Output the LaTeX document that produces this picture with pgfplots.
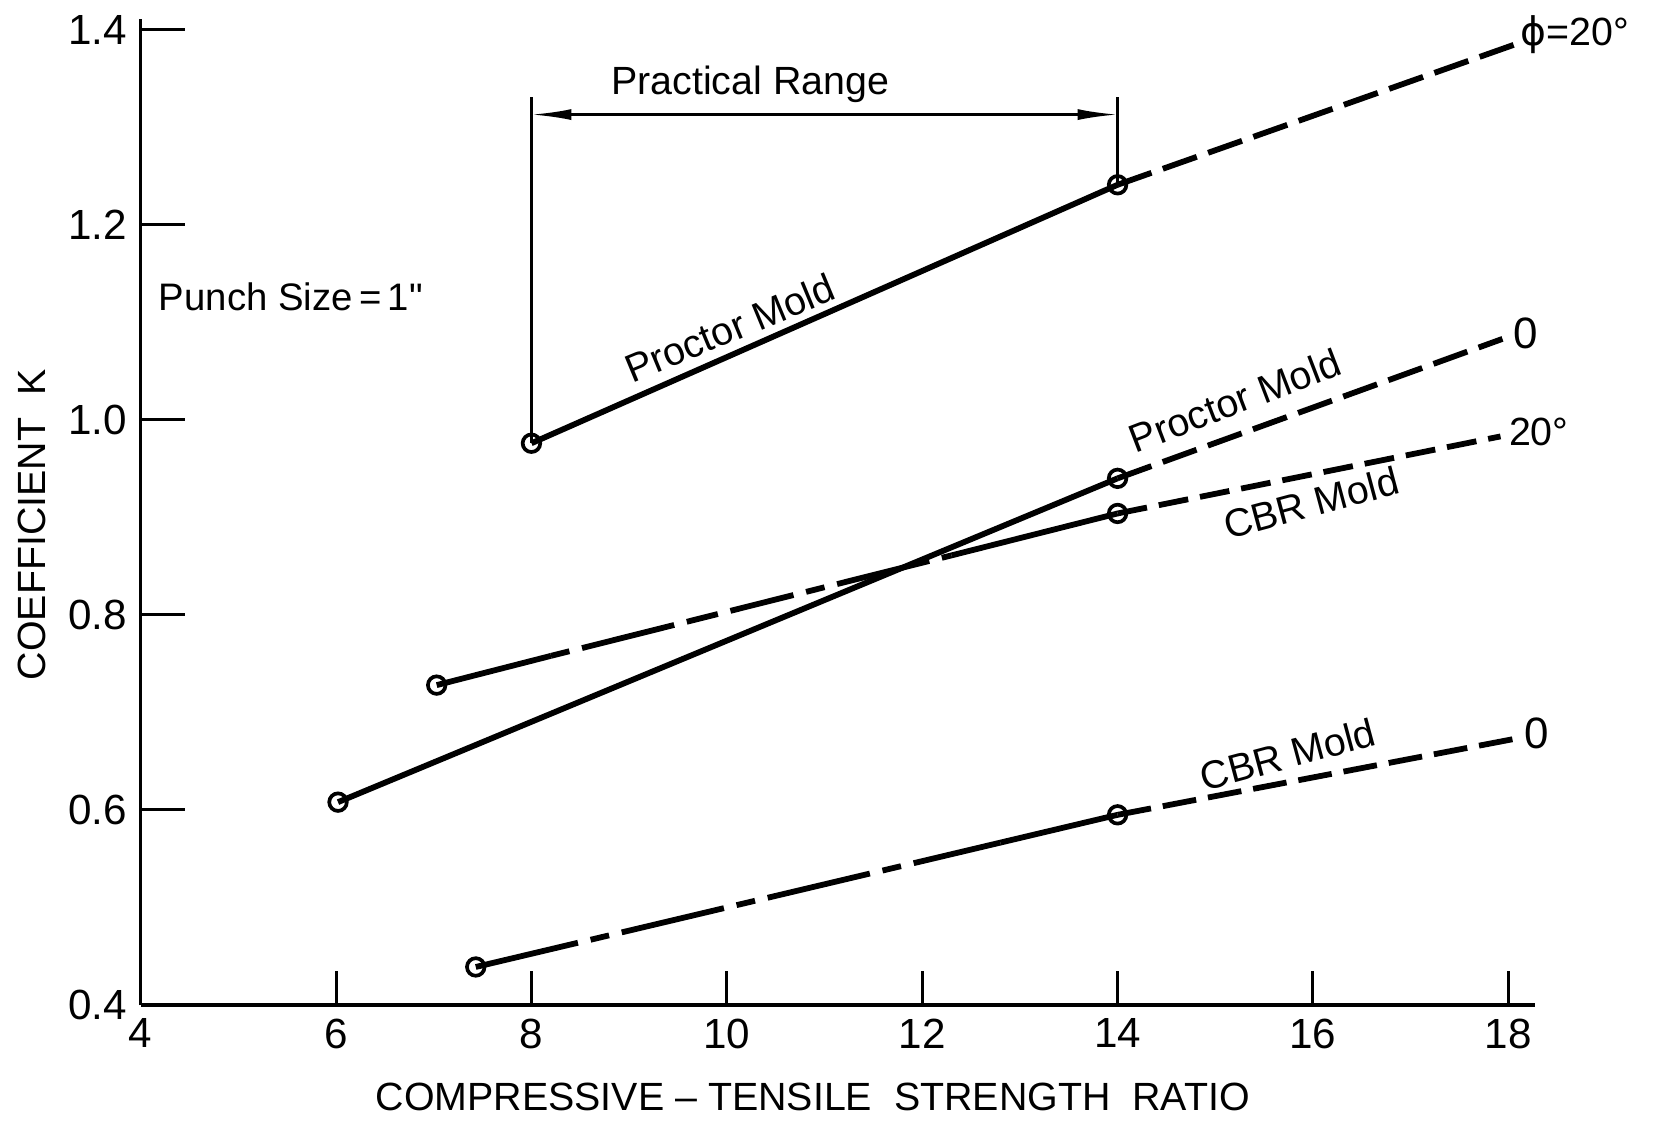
\documentclass[border=0pt]{standalone}
\usepackage{fontspec}
\setmainfont{Liberation Sans}
\newfontfamily\dvfont{DejaVu Sans}
\usepackage{pgfplots}
\pgfplotsset{compat=1.18}
\usetikzlibrary{arrows.meta}
\begin{document}
\fontsize{11.2}{13.4}\selectfont
\begin{tikzpicture}
\useasboundingbox (-14.07mm,-11.57mm) rectangle (151.93mm,100.5mm);
\begin{axis}[
  at={(0,0)}, anchor=south west,
  scale only axis, width=139.4mm, height=98.6mm,
  xmin=4, xmax=18.27, ymin=0.4, ymax=1.411,
  axis x line=bottom, axis y line=left,
  axis line style={-, line width=1.0pt, black},
  xtick={4,6,8,10,12,14,16,18},
  ytick={0.4,0.6,0.8,1.0,1.2,1.4},
  tick align=inside,
  major tick length=3.4mm,
  xtick style={line width=0.85pt, black},
  ytick style={line width=0.85pt, black, /pgfplots/major tick length=4.45mm},
  yticklabel style={/pgf/number format/fixed, /pgf/number format/precision=1, /pgf/number format/fixed zerofill},
  /pgf/number format/assume math mode=true,
  ticklabel style={font=\fontsize{12}{14}\selectfont},
  clip=false,
  every axis plot/.append style={line width=1.65pt, black},
]
% Proctor Mold, phi = 20
\addplot[solid] coordinates {(8,0.976) (14,1.241)};
\addplot[dash pattern=on 3.6mm off 1.2mm] coordinates {(14,1.241) (18.07,1.385)};
% Proctor Mold, phi = 0
\addplot[solid] coordinates {(6.02,0.608) (14,0.940)};
\addplot[dash pattern=on 3.6mm off 1.2mm] coordinates {(14,0.940) (17.94,1.083)};
% CBR Mold, phi = 20
\addplot[solid] coordinates {(7.03,0.728) (8.2,0.758)};
\addplot[dash pattern=on 1.9mm off 1.3mm on 9.5mm off 1.3mm on 3.2mm off 1.3mm on 6.5mm off 1.3mm] coordinates {(8.2,0.758) (12.3,0.861)};
\addplot[solid] coordinates {(12.3,0.861) (14,0.904)};
\addplot[dash pattern=on 3.0mm off 1.2mm] coordinates {(14,0.904) (17.92,0.983)};
% CBR Mold, phi = 0
\addplot[dash pattern=on 10.5mm off 1.3mm on 1.9mm off 1.3mm] coordinates {(7.43,0.439) (12.8,0.5665)};
\addplot[solid] coordinates {(12.8,0.5665) (14,0.595)};
\addplot[dash pattern=on 3.4mm off 1.2mm] coordinates {(14,0.595) (18.07,0.673)};
% Practical range
\addplot[line width=0.75pt] coordinates {(8,0.976) (8,1.331)};
\addplot[line width=0.75pt] coordinates {(14,1.241) (14,1.331)};
\addplot[line width=0.75pt, {Latex[length=4mm,width=1.1mm]}-{Latex[length=4mm,width=1.1mm]}] coordinates {(8,1.313) (14,1.313)};
% data points
\addplot[only marks, mark=o, mark size=2.5pt, mark options={solid, line width=1.05pt, fill=white}]
  coordinates {(8,0.976) (14,1.241) (6.02,0.608) (14,0.940) (7.03,0.728) (14,0.904) (7.43,0.439) (14,0.595)};
% labels
\node at (axis cs:10.24,1.344) {Practical Range};
\node[anchor=west, inner sep=0pt] at (axis cs:4.18,1.126) {\fontsize{10.9}{13}\selectfont Punch Size\,=\,1\textquotedbl};
\node[rotate=22.5] at (axis cs:10.03,1.094) {Proctor Mold};
\node[rotate=21] at (axis cs:15.2,1.020) {Proctor Mold};
\node[rotate=15] at (axis cs:15.98,0.915) {CBR Mold};
\node[rotate=15] at (axis cs:15.74,0.657) {CBR Mold};
\node[anchor=west, inner sep=0pt] at (axis cs:18.12,1.395) {{\dvfont ϕ}=20°};
\node[anchor=west, inner sep=0pt] at (axis cs:18.05,1.089) {\fontsize{12.5}{14}\selectfont 0};
\node[anchor=west, inner sep=0pt] at (axis cs:18.0,0.988) {20°};
\node[anchor=west, inner sep=0pt] at (axis cs:18.16,0.679) {\fontsize{12.5}{14}\selectfont 0};
\end{axis}
\node[rotate=90] at (-10.9mm, 48.0mm) {COEFFICIENT\ \ K};
\node at (67.2mm, -9.2mm) {COMPRESSIVE -- TENSILE\ \ STRENGTH\ \ RATIO};
\end{tikzpicture}
\end{document}
